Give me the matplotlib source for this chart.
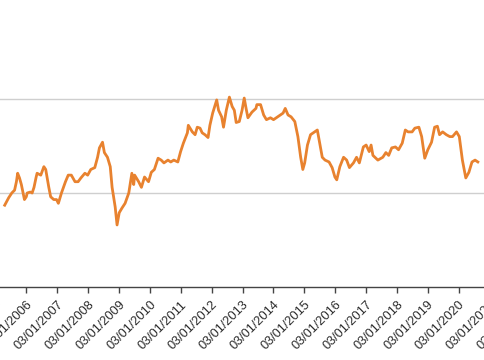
import matplotlib
matplotlib.use("Agg")
import matplotlib.pyplot as plt
import matplotlib.dates as mdates
import numpy as np
from datetime import datetime

# decimal-year positions of the series samples
years = [2005.30, 2005.40, 2005.43, 2005.53, 2005.62, 2005.68, 2005.72, 2005.78, 2005.84, 2005.94,
         2006.00, 2006.03, 2006.13, 2006.19, 2006.25, 2006.32, 2006.35, 2006.47, 2006.57, 2006.63,
         2006.73, 2006.79, 2006.89, 2006.98, 2007.04, 2007.14, 2007.27, 2007.36, 2007.46, 2007.58,
         2007.68, 2007.77, 2007.90, 2007.99, 2008.09, 2008.22, 2008.31, 2008.37, 2008.47, 2008.53,
         2008.63, 2008.72, 2008.78, 2008.88, 2008.94, 2009.01, 2009.10, 2009.20, 2009.32, 2009.42,
         2009.48, 2009.51, 2009.64, 2009.73, 2009.83, 2009.96, 2010.05, 2010.15, 2010.27, 2010.37,
         2010.46, 2010.59, 2010.68, 2010.78, 2010.91, 2011.00, 2011.09, 2011.22, 2011.25, 2011.38,
         2011.47, 2011.54, 2011.63, 2011.70, 2011.79, 2011.89, 2011.95, 2012.04, 2012.17, 2012.23,
         2012.33, 2012.39, 2012.48, 2012.58, 2012.67, 2012.74, 2012.80, 2012.90, 2012.99, 2013.06,
         2013.12, 2013.18, 2013.31, 2013.44, 2013.47, 2013.59, 2013.69, 2013.78, 2013.91, 2014.01,
         2014.10, 2014.23, 2014.32, 2014.39, 2014.48, 2014.58, 2014.70, 2014.80, 2014.89, 2014.96,
         2015.02, 2015.11, 2015.21, 2015.34, 2015.43, 2015.49, 2015.59, 2015.68, 2015.81, 2015.91,
         2016.00, 2016.06, 2016.16, 2016.28, 2016.38, 2016.47, 2016.60, 2016.70, 2016.79, 2016.92,
         2017.01, 2017.11, 2017.17, 2017.23, 2017.39, 2017.55, 2017.65, 2017.74, 2017.84, 2017.96,
         2018.06, 2018.18, 2018.28, 2018.37, 2018.50, 2018.59, 2018.72, 2018.81, 2018.91, 2019.01,
         2019.13, 2019.23, 2019.32, 2019.39, 2019.49, 2019.61, 2019.72, 2019.81, 2019.94, 2020.03,
         2020.13, 2020.24, 2020.34, 2020.44, 2020.54, 2020.63]

values = [0.87, 0.93, 0.95, 1.00, 1.03, 1.12, 1.21, 1.16, 1.09, 0.93,
          0.96, 1.00, 1.01, 1.00, 1.06, 1.17, 1.21, 1.19, 1.28, 1.25,
          1.06, 0.96, 0.93, 0.93, 0.89, 1.00, 1.12, 1.19, 1.19, 1.12,
          1.12, 1.16, 1.21, 1.19, 1.25, 1.27, 1.38, 1.48, 1.54, 1.43,
          1.38, 1.28, 1.06, 0.85, 0.66, 0.79, 0.84, 0.89, 1.00, 1.21,
          1.09, 1.19, 1.12, 1.06, 1.17, 1.12, 1.22, 1.25, 1.37, 1.35,
          1.32, 1.35, 1.33, 1.35, 1.33, 1.44, 1.53, 1.64, 1.72, 1.65,
          1.62, 1.70, 1.69, 1.64, 1.62, 1.59, 1.72, 1.85, 1.99, 1.88,
          1.81, 1.70, 1.88, 2.02, 1.92, 1.88, 1.75, 1.76, 1.88, 2.01,
          1.90, 1.80, 1.86, 1.90, 1.94, 1.94, 1.83, 1.78, 1.80, 1.78,
          1.80, 1.83, 1.85, 1.90, 1.83, 1.81, 1.76, 1.60, 1.38, 1.25,
          1.32, 1.51, 1.62, 1.65, 1.67, 1.56, 1.38, 1.35, 1.33, 1.27,
          1.17, 1.14, 1.28, 1.38, 1.35, 1.27, 1.32, 1.38, 1.32, 1.49,
          1.51, 1.44, 1.51, 1.40, 1.35, 1.38, 1.43, 1.40, 1.48, 1.49,
          1.46, 1.53, 1.67, 1.65, 1.65, 1.69, 1.70, 1.60, 1.37, 1.46,
          1.54, 1.70, 1.71, 1.62, 1.65, 1.62, 1.60, 1.60, 1.65, 1.60,
          1.35, 1.16, 1.22, 1.33, 1.35, 1.33]

tick_years = list(range(2002, 2025))
grid_values = [1, 2]


def to_date(y):
    yr = int(np.floor(y))
    start = datetime(yr, 1, 1)
    end = datetime(yr + 1, 1, 1)
    return start + (end - start) * (y - yr)


dates = [to_date(y) for y in years]
tick_dates = [datetime(y, 1, 3) for y in tick_years]

plt.rcParams['font.family'] = ['Liberation Sans', 'DejaVu Sans']

fig = plt.figure(figsize=(4.85, 3.6), dpi=100)
# axes deliberately extends beyond the canvas (reference is a crop)
ax = fig.add_axes([-0.2, 0.2028, 1.4, 0.9139])
ax.plot(dates, values, color='#E8822F', lw=2.0, solid_joinstyle='round')

ax.set_xlim(to_date(2002.252), to_date(2023.692))
ax.set_ylim(0, 3.5)
ax.set_yticks(grid_values)
ax.yaxis.grid(True, color='#cfcfcf', lw=1.0)
ax.tick_params(axis='y', length=0, labelleft=False)

ax.set_xticks(tick_dates)
ax.xaxis.set_major_formatter(mdates.DateFormatter('%d/%m/%Y'))
ax.tick_params(axis='x', length=4, width=1, color='#444444', labelsize=9.2,
               labelcolor='#2a2a2a', pad=4.5)
for lbl in ax.get_xticklabels():
    lbl.set_rotation(45)
    lbl.set_ha('right')
    lbl.set_rotation_mode('anchor')

for s in ['top', 'left', 'right']:
    ax.spines[s].set_visible(False)
ax.spines['bottom'].set_color('#444444')
ax.spines['bottom'].set_linewidth(1.0)
ax.set_facecolor('white')
fig.patch.set_facecolor('white')

fig.savefig('out.png', dpi=100)
